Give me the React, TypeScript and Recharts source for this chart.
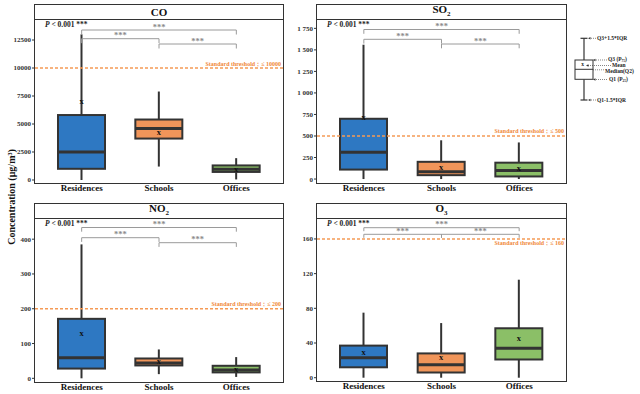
import React from 'react';
import { ComposedChart, Bar, XAxis, YAxis, ReferenceLine, Label } from 'recharts';

// ---------------- DATA ----------------
const categories = ['Residences', 'Schools', 'Offices'];

const coMin = [0, 1200, 50];
const coQ1 = [1000, 3700, 720];
const coMedian = [2500, 4600, 950];
const coQ3 = [5800, 5400, 1300];
const coMax = [13000, 7900, 1950];
const coMean = [7000, 4300, 1000];

const so2Min = [0, 0, 0];
const so2Q1 = [110, 45, 30];
const so2Median = [310, 85, 100];
const so2Q3 = [700, 200, 190];
const so2Max = [1560, 450, 425];
const so2Mean = [720, 140, 120];

const no2Min = [0, 12, 4];
const no2Q1 = [28, 37, 17];
const no2Median = [59, 44, 24];
const no2Q3 = [171, 57, 36];
const no2Max = [385, 83, 61];
const no2Mean = [130, 48, 26];

const o3Min = [0, 0, 0];
const o3Q1 = [12, 6, 21];
const o3Median = [23, 15, 34];
const o3Q3 = [37, 28, 57];
const o3Max = [75, 63, 113];
const o3Mean = [29, 23, 45];

const coTicks = [0, 2500, 5000, 7500, 10000, 12500];
const so2Ticks = [0, 250, 500, 750, 1000, 1250, 1500, 1750];
const no2Ticks = [0, 100, 200, 300, 400];
const o3Ticks = [0, 40, 80, 120, 160];

const thresholds = { CO: 10000, SO2: 500, NO2: 200, O3: 160 };
const pValueText = '< 0.001 ***';
const pairLabels = ['***', '***', '***']; // outer (R-O), R-S, S-O

// ---------------- STYLE ----------------
const SERIF = '"Liberation Serif", "Times New Roman", serif';
const DARK = '#333333';
const boxColors = ['#2E78C2', '#F0955A', '#8BBF67'];
const ORANGE_LINE = '#F59A55';
const ORANGE_TEXT = '#F0893A';
const GRAY = '#9a9a9a';
const YW = 35;
const XH = 16;

const buildRows = (mn: number[], q1: number[], md: number[], q3: number[], mx: number[], mean: number[]) =>
  categories.map((cat, i) => ({
    cat,
    range: [mn[i], mx[i]],
    min: mn[i],
    q1: q1[i],
    median: md[i],
    q3: q3[i],
    max: mx[i],
    mean: mean[i],
  }));

const BoxShape = (props: any) => {
  const { x, y, width, height } = props;
  const d = props.payload && props.payload.q1 !== undefined ? props.payload : props;
  let idx = categories.indexOf(d.cat);
  if (idx < 0) idx = props.index ?? 0;
  const top = Math.min(y, y + height);
  const bot = Math.max(y, y + height);
  const span = d.max - d.min || 1;
  const py = (v: number) => bot - ((bot - top) * (v - d.min)) / span;
  const cx = x + width / 2;
  return (
    <g>
      <line x1={cx} x2={cx} y1={py(d.max)} y2={py(d.q3)} stroke={DARK} strokeWidth={2} />
      <line x1={cx} x2={cx} y1={py(d.q1)} y2={py(d.min)} stroke={DARK} strokeWidth={2} />
      <rect x={x} y={py(d.q3)} width={width} height={py(d.q1) - py(d.q3)} fill={boxColors[idx]} stroke={DARK} strokeWidth={2} />
      <line x1={x} x2={x + width} y1={py(d.median)} y2={py(d.median)} stroke={DARK} strokeWidth={3} />
      <text x={cx} y={py(d.mean)} dy="0.32em" textAnchor="middle" fontSize={8.5} fontWeight="bold" fontFamily={SERIF} fill="#111">
        x
      </text>
    </g>
  );
};

type Panel = {
  key: string;
  title: React.ReactNode;
  left: number;
  right: number;
  top: number;
  strip: number;
  bottom: number;
  domain: [number, number];
  ticks: number[];
  fmt: (v: number) => string;
  rows: any[];
  threshold: number;
  below: boolean;
  br: { outer: number; rs: number; so: number; tick: number };
};

const plain = (v: number) => String(v);
const spaced = (v: number) =>
  v >= 1000 ? `${Math.floor(v / 1000)}\u00A0${String(v % 1000).padStart(3, '0')}` : String(v);

const panels: Panel[] = [
  {
    key: 'CO',
    title: <span>CO</span>,
    left: 35, right: 283, top: 5, strip: 20, bottom: 183,
    domain: [-268, 14286], ticks: coTicks, fmt: plain,
    rows: buildRows(coMin, coQ1, coMedian, coQ3, coMax, coMean),
    threshold: thresholds.CO, below: false,
    br: { outer: 10, rs: 18.7, so: 24, tick: 4.5 },
  },
  {
    key: 'SO2',
    title: <span>SO<sub style={{ fontSize: 7 }}>2</sub></span>,
    left: 317, right: 566, top: 5, strip: 20, bottom: 183,
    domain: [-46, 1847], ticks: so2Ticks, fmt: spaced,
    rows: buildRows(so2Min, so2Q1, so2Median, so2Q3, so2Max, so2Mean),
    threshold: thresholds.SO2, below: false,
    br: { outer: 9.5, rs: 19.3, so: 24, tick: 4.3 },
  },
  {
    key: 'NO2',
    title: <span>NO<sub style={{ fontSize: 7 }}>2</sub></span>,
    left: 35, right: 283, top: 204, strip: 219, bottom: 382,
    domain: [-10.6, 458], ticks: no2Ticks, fmt: plain,
    rows: buildRows(no2Min, no2Q1, no2Median, no2Q3, no2Max, no2Mean),
    threshold: thresholds.NO2, below: false,
    br: { outer: 8.5, rs: 18.7, so: 23.7, tick: 4.2 },
  },
  {
    key: 'O3',
    title: <span>O<sub style={{ fontSize: 7 }}>3</sub></span>,
    left: 317, right: 566, top: 204, strip: 219, bottom: 381,
    domain: [-3.8, 183], ticks: o3Ticks, fmt: plain,
    rows: buildRows(o3Min, o3Q1, o3Median, o3Q3, o3Max, o3Mean),
    threshold: thresholds.O3, below: true,
    br: { outer: 8.7, rs: 15.3, so: 15.3, tick: 3.5 },
  },
];

const thresholdContent = (value: number, below: boolean) => (props: any) => {
  const vb = props.viewBox || {};
  const xr = (vb.x ?? 0) + (vb.width ?? 0) - 2;
  const yy = (vb.y ?? 0) + (below ? 6.5 : -2.5);
  return (
    <text x={xr} y={yy} textAnchor="end" fontSize={6} fontWeight="bold" fontFamily={SERIF} fill={ORANGE_TEXT}>
      {`Standard threshold：≤ ${value}`}
    </text>
  );
};

const PanelChart = ({ p }: { p: Panel }) => {
  const plotH = p.bottom - p.strip;
  const plotW = p.right - p.left;
  const toVal = (off: number) => p.domain[1] - (off * (p.domain[1] - p.domain[0])) / plotH;
  const tickV = (p.br.tick * (p.domain[1] - p.domain[0])) / plotH;
  const [R, S, O] = categories;
  const bracket = (a: string, b: string, off: number, lbl: string, k: string) => {
    const lv = toVal(off);
    return [
      <ReferenceLine key={k + 'h'} segment={[{ x: a, y: lv }, { x: b, y: lv }]} stroke={GRAY} strokeWidth={1}
        label={{ value: lbl, position: 'top', offset: 0.5, fontSize: 8.5, fill: '#8a8a8a', fontFamily: SERIF, fontWeight: 'bold' }} />,
      <ReferenceLine key={k + 'l'} segment={[{ x: a, y: lv }, { x: a, y: lv - tickV }]} stroke={GRAY} strokeWidth={1} />,
      <ReferenceLine key={k + 'r'} segment={[{ x: b, y: lv }, { x: b, y: lv - tickV }]} stroke={GRAY} strokeWidth={1} />,
    ];
  };
  return (
    <>
      <div style={{ position: 'absolute', left: p.left - YW, top: p.strip }}>
        <ComposedChart width={plotW + YW} height={plotH + XH} data={p.rows} margin={{ top: 0, right: 0, bottom: 0, left: 0 }}>
          <XAxis dataKey="cat" type="category" axisLine={false} tickLine={false} tickSize={0} tickMargin={2} height={XH}
            padding={{ left: 8, right: 8 }} interval={0}
            tick={{ fontSize: 9, fontWeight: 'bold', fill: '#111', fontFamily: SERIF }} />
          <YAxis type="number" domain={p.domain} ticks={p.ticks} allowDataOverflow width={YW} axisLine={false}
            tickSize={3} tickMargin={1} tickLine={{ stroke: DARK, strokeWidth: 1 }} tickFormatter={p.fmt}
            tick={{ fontSize: 7, fontWeight: 'bold', fill: '#333', fontFamily: SERIF }} />
          <ReferenceLine y={p.threshold} stroke={ORANGE_LINE} strokeWidth={1.5} strokeDasharray="3 2">
            <Label content={thresholdContent(p.threshold, p.below)} />
          </ReferenceLine>
          <Bar dataKey="range" barSize={47} shape={BoxShape} isAnimationActive={false} />
          {bracket(R, O, p.br.outer, pairLabels[0], 'o')}
          {bracket(R, S, p.br.rs, pairLabels[1], 'rs')}
          {bracket(S, O, p.br.so, pairLabels[2], 'so')}
        </ComposedChart>
      </div>
      <div style={{
        position: 'absolute', left: p.left - 0.75, top: p.top - 0.75, width: plotW + 1.5, height: p.bottom - p.top + 1.5,
        border: `1.5px solid ${DARK}`, boxSizing: 'border-box', pointerEvents: 'none',
      }}>
        <div style={{
          height: p.strip - p.top, borderBottom: `1.5px solid ${DARK}`, boxSizing: 'border-box',
          display: 'flex', alignItems: 'center', justifyContent: 'center',
          fontFamily: SERIF, fontWeight: 'bold', fontSize: 11, lineHeight: '11px', color: '#111',
        }}>
          {p.title}
        </div>
      </div>
      <div style={{
        position: 'absolute', left: p.left + 10, top: p.strip + 0.5, fontFamily: SERIF, fontWeight: 'bold',
        fontSize: 7.5, lineHeight: '8px', color: '#222', whiteSpace: 'nowrap',
      }}>
        <i>P</i> {pValueText}
      </div>
    </>
  );
};

const Arrow = ({ x1, x2, y }: { x1: number; x2: number; y: number }) => (
  <g>
    <line x1={x1} x2={x2 + 2} y1={y} y2={y} stroke={DARK} strokeWidth={0.6} strokeDasharray="1 1" />
    <path d={`M${x2},${y} L${x2 + 2.5},${y - 1.3} L${x2 + 2.5},${y + 1.3} Z`} fill={DARK} />
  </g>
);

const legendText = { fontSize: 5.5, fontWeight: 'bold' as const, fontFamily: SERIF, fill: '#222' };

const BoxLegend = () => (
  <svg width={640} height={394} style={{ position: 'absolute', left: 0, top: 0, pointerEvents: 'none' }}>
    <line x1={584} x2={584} y1={38.3} y2={60} stroke={DARK} strokeWidth={1.2} />
    <line x1={584} x2={584} y1={79.3} y2={100} stroke={DARK} strokeWidth={1.2} />
    <line x1={580.5} x2={587.5} y1={38.3} y2={38.3} stroke={DARK} strokeWidth={1.2} />
    <line x1={580.5} x2={587.5} y1={100} y2={100} stroke={DARK} strokeWidth={1.2} />
    <rect x={575} y={60} width={18} height={19.3} fill="#fff" stroke={DARK} strokeWidth={1} />
    <line x1={575} x2={593} y1={69.3} y2={69.3} stroke={DARK} strokeWidth={1} />
    <text x={582.5} y={64} dy="0.35em" textAnchor="middle" {...legendText}>x</text>
    <Arrow x1={596} x2={588} y={38.3} />
    <Arrow x1={607} x2={593} y={60} />
    <Arrow x1={611} x2={586} y={65.5} />
    <line x1={593} x2={604} y1={69.8} y2={69.8} stroke={DARK} strokeWidth={0.6} strokeDasharray="1 1" />
    <Arrow x1={607} x2={593} y={79.5} />
    <Arrow x1={596} x2={588} y={100} />
    <text x={597} y={38.3} dy="0.35em" {...legendText}>Q3+1.5*IQR</text>
    <text x={608} y={59.5} dy="0.35em" {...legendText}>Q3 (P<tspan fontSize={3.5} dy="1">75</tspan><tspan dy="-1">)</tspan></text>
    <text x={612} y={65.5} dy="0.35em" {...legendText}>Mean</text>
    <text x={605} y={71} dy="0.35em" {...legendText}>Median(Q2)</text>
    <text x={609} y={79.5} dy="0.35em" {...legendText}>Q1 (P<tspan fontSize={3.5} dy="1">25</tspan><tspan dy="-1">)</tspan></text>
    <text x={597} y={100} dy="0.35em" {...legendText}>Q1-1.5*IQR</text>
  </svg>
);

export default function App() {
  return (
    <div style={{ position: 'absolute', left: 0, top: 0, width: 640, height: 394, background: '#fff', overflow: 'hidden' }}>
      {panels.map((p) => (
        <PanelChart key={p.key} p={p} />
      ))}
      <svg width={30} height={394} style={{ position: 'absolute', left: 0, top: 0 }}>
        <text transform="translate(11,197) rotate(-90)" textAnchor="middle" dominantBaseline="central"
          fontSize={10} fontWeight="bold" fontFamily={SERIF} fill="#111">
          Concentration (μg/m³)
        </text>
      </svg>
      <BoxLegend />
    </div>
  );
}
